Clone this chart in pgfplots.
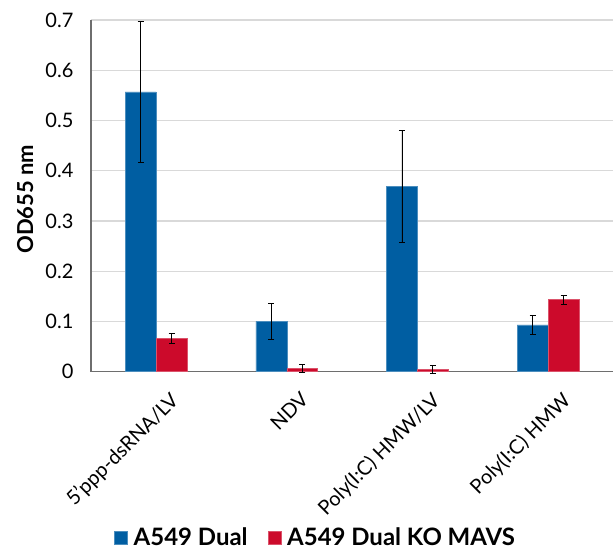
\documentclass[border=0pt]{standalone}
\usepackage{fontspec}
\setmainfont{Lato}
\usepackage{pgfplots}
\pgfplotsset{compat=1.18}
\definecolor{cblue}{HTML}{005EA2}
\definecolor{cred}{HTML}{CC0A2B}
\definecolor{gridc}{HTML}{D9D9D9}
\definecolor{axc}{HTML}{6E6E6E}
\begin{document}
\begin{tikzpicture}
\begin{axis}[
  scale only axis,
  width=523pt, height=352pt,
  xmin=-0.5, xmax=3.5,
  ymin=0, ymax=0.7,
  ytick={0,0.1,0.2,0.3,0.4,0.5,0.6,0.7},
  yticklabels={0,0.1,0.2,0.3,0.4,0.5,0.6,0.7},
  xtick={0,1,2,3},
  xticklabels={5'ppp-dsRNA/LV,NDV,Poly(I:C) HMW/LV,Poly(I:C) HMW},
  major tick length=0pt,
  axis x line*=bottom, axis y line*=left,
  axis line style={-, draw=axc, line width=1.3pt},
  ymajorgrids, grid style={gridc, line width=1.2pt},
  ybar=0pt, bar width=31pt,
  clip=false,
  /pgf/number format/assume math mode=true,
  yticklabel style={font=\fontsize{20}{24}\selectfont, xshift=-14pt},
  xticklabel style={font=\fontsize{20}{24}\selectfont, rotate=45, anchor=north east, xshift=-1pt, yshift=-19pt},
  ylabel={OD655 nm},
  every axis y label/.style={at={(axis description cs:-0.126,0.49)}, rotate=90, anchor=center,
    font=\fontsize{22}{26}\selectfont\bfseries},
  legend style={at={(axis description cs:0.43,-0.472)}, anchor=center, draw=none, legend columns=2,
    font=\fontsize{24}{28}\selectfont\bfseries,
    /tikz/every odd column/.append style={column sep=4pt},
    /tikz/every even column/.append style={column sep=18pt}},
  legend image code/.code={\fill[#1] (0pt,-6.5pt) rectangle (13pt,6.5pt);},
  error bars/error bar style={black, line width=0.9pt},
  error bars/error mark options={rotate=90, mark size=3pt, black, line width=0.9pt},
]
\addplot[fill=cblue, draw=cblue!70!white, line width=0.6pt,
  error bars/.cd, y dir=both, y explicit]
  coordinates {(0,0.557) +- (0,0.140) (1,0.100) +- (0,0.035) (2,0.369) +- (0,0.111) (3,0.093) +- (0,0.019)};
\addplot[fill=cred, draw=cred!70!white, line width=0.6pt,
  error bars/.cd, y dir=both, y explicit]
  coordinates {(0,0.066) +- (0,0.010) (1,0.006) +- (0,0.008) (2,0.004) +- (0,0.008) (3,0.143) +- (0,0.009)};
\legend{A549 Dual, A549 Dual KO MAVS}
\end{axis}
\path (-91pt,-180pt) rectangle (523pt,372pt);
\end{tikzpicture}
\end{document}
